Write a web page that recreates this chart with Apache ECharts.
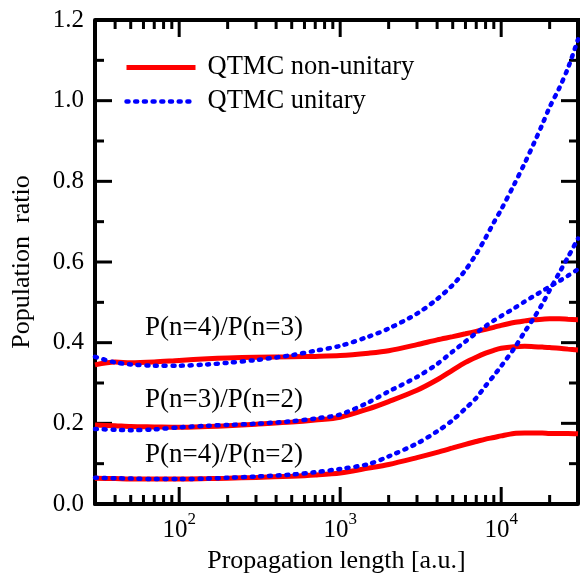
<!DOCTYPE html>
<html>
<head>
<meta charset="utf-8">
<script src="https://cdn.jsdelivr.net/npm/echarts@6/dist/echarts.min.js"></script>
<style>
  html, body { margin: 0; padding: 0; background: #fff; }
  #chart { width: 580px; height: 579px; }
</style>
</head>
<body>
<div id="chart"></div>
<script>
// Propagation lengths (a.u.) at which the population ratios are sampled
const lengths = [30, 40, 50, 70, 100, 150, 200, 300, 500, 700, 1000, 1500, 2000, 3000, 4000,
  5000, 6000, 7000, 8000, 9000, 10000, 12000, 14000, 16000, 18000, 20000, 23000, 26000, 30000];

// P(n=4)/P(n=3)
const nonUnitary43 = [0.345, 0.352, 0.350, 0.352, 0.356, 0.360, 0.362, 0.364, 0.365, 0.366, 0.368, 0.374, 0.380,
  0.395, 0.407, 0.415, 0.422, 0.428, 0.433, 0.438, 0.443, 0.450, 0.454, 0.457, 0.458, 0.459, 0.459, 0.458, 0.457];
const unitary43 = [0.365, 0.351, 0.346, 0.343, 0.343, 0.346, 0.350, 0.357, 0.369, 0.380, 0.392, 0.415, 0.435,
  0.472, 0.508, 0.543, 0.580, 0.620, 0.660, 0.698, 0.730, 0.791, 0.845, 0.895, 0.941, 0.984, 1.032, 1.081, 1.152];

// P(n=3)/P(n=2)
const nonUnitary32 = [0.196, 0.194, 0.192, 0.191, 0.190, 0.192, 0.194, 0.198, 0.203, 0.208, 0.215, 0.236, 0.254,
  0.282, 0.308, 0.332, 0.351, 0.364, 0.374, 0.381, 0.386, 0.390, 0.391, 0.390, 0.389, 0.388, 0.386, 0.384, 0.382];
const unitary32 = [0.186, 0.184, 0.183, 0.185, 0.190, 0.194, 0.196, 0.199, 0.205, 0.212, 0.222, 0.252, 0.279,
  0.315, 0.347, 0.378, 0.403, 0.424, 0.441, 0.455, 0.466, 0.485, 0.502, 0.516, 0.528, 0.539, 0.553, 0.566, 0.582];

// P(n=4)/P(n=2)
const nonUnitary42 = [0.064, 0.063, 0.062, 0.062, 0.062, 0.063, 0.064, 0.066, 0.069, 0.072, 0.077, 0.089, 0.098,
  0.115, 0.128, 0.139, 0.148, 0.155, 0.161, 0.165, 0.169, 0.175, 0.176, 0.176, 0.176, 0.175, 0.175, 0.175, 0.174];
const unitary42 = [0.065, 0.064, 0.063, 0.062, 0.062, 0.063, 0.065, 0.068, 0.073, 0.079, 0.087, 0.099, 0.118,
  0.150, 0.180, 0.208, 0.237, 0.263, 0.293, 0.318, 0.342, 0.385, 0.427, 0.462, 0.496, 0.530, 0.574, 0.612, 0.658];

// Axis ranges and tick positions
const X_MIN = 30, X_MAX = 30000, Y_MIN = 0, Y_MAX = 1.2;
const xMajorTicks = [100, 1000, 10000];
const xMinorTicks = [40, 50, 60, 70, 80, 90, 200, 300, 400, 500, 600, 700, 800, 900,
  2000, 3000, 4000, 5000, 6000, 7000, 8000, 9000, 20000];
const yMajorTicks = [0.2, 0.4, 0.6, 0.8, 1.0];
const yMinorTicks = [0.1, 0.3, 0.5, 0.7, 0.9, 1.1];

const seriesNames = ['QTMC non-unitary', 'QTMC unitary'];
const ratioLabels = ['P(n=4)/P(n=3)', 'P(n=3)/P(n=2)', 'P(n=4)/P(n=2)'];

const FONT = 'Liberation Serif';
const RED = '#ff0000';
const BLUE = '#0000ff';
const MAJOR_LEN = 17, MINOR_LEN = 9;

function pairs(ys) { return lengths.map((x, i) => [x, ys[i]]); }

const chart = echarts.init(document.getElementById('chart'));

function solid(ys) {
  return {
    type: 'line', name: seriesNames[0], data: pairs(ys),
    symbol: 'none', smooth: 0.3,
    lineStyle: { color: RED, width: 5 }, itemStyle: { color: RED }
  };
}
function dotted(ys) {
  return {
    type: 'line', name: seriesNames[1], data: pairs(ys),
    symbol: 'none', smooth: 0.3,
    lineStyle: { color: BLUE, width: 4.5, type: [2, 6.7], cap: 'round' }, itemStyle: { color: BLUE }
  };
}

function tickLine(x1, y1, x2, y2) {
  return { type: 'line', shape: { x1: x1, y1: y1, x2: x2, y2: y2 }, style: { stroke: '#000', lineWidth: 3 } };
}

// Inward ticks on the bottom and top edges of the frame, placed through the log scale
const xTickSeries = {
  type: 'custom', silent: true, clip: false,
  dimensions: ['length', 'ratio', 'major'], encode: { x: 0, y: 1 },
  data: xMajorTicks.map(v => [v, Y_MIN, 1]).concat(xMinorTicks.map(v => [v, Y_MIN, 0])),
  renderItem: (params, api) => {
    const v = api.value(0);
    const len = api.value(2) ? MAJOR_LEN : MINOR_LEN;
    const b = api.coord([v, Y_MIN]);
    const t = api.coord([v, Y_MAX]);
    return { type: 'group', children: [
      tickLine(b[0], b[1], b[0], b[1] - len),
      tickLine(t[0], t[1], t[0], t[1] + len)
    ] };
  }
};

// Inward ticks on the left and right edges of the frame
const yTickSeries = {
  type: 'custom', silent: true, clip: false,
  dimensions: ['length', 'ratio', 'major'], encode: { x: 0, y: 1 },
  data: yMajorTicks.map(v => [X_MIN, v, 1]).concat(yMinorTicks.map(v => [X_MIN, v, 0])),
  renderItem: (params, api) => {
    const v = api.value(1);
    const len = api.value(2) ? MAJOR_LEN : MINOR_LEN;
    const l = api.coord([X_MIN, v]);
    const r = api.coord([X_MAX, v]);
    return { type: 'group', children: [
      tickLine(l[0], l[1], l[0] + len, l[1]),
      tickLine(r[0], r[1], r[0] - len, r[1])
    ] };
  }
};

chart.setOption({
  animation: false,
  grid: { left: 95, right: 2, top: 20, bottom: 75 },
  xAxis: {
    type: 'log', logBase: 10, min: X_MIN, max: X_MAX,
    splitLine: { show: false },
    axisLine: { show: true, onZero: false, lineStyle: { color: '#000', width: 4 } },
    axisTick: { show: false },
    minorTick: { show: false },
    axisLabel: {
      show: true, customValues: xMajorTicks, margin: 7,
      formatter: v => '{b|10}{s|' + Math.round(Math.log10(v)) + '}',
      rich: {
        b: { fontSize: 25, fontFamily: FONT, color: '#000', lineHeight: 32, verticalAlign: 'bottom' },
        s: { fontSize: 17, fontFamily: FONT, color: '#000', lineHeight: 16, verticalAlign: 'top' }
      }
    },
    name: 'Propagation length [a.u.]',
    nameLocation: 'middle', nameGap: 39,
    nameTextStyle: { fontSize: 26, fontFamily: FONT, color: '#000' }
  },
  yAxis: {
    type: 'value', min: Y_MIN, max: Y_MAX, interval: 0.2,
    splitLine: { show: false },
    axisLine: { show: true, onZero: false, lineStyle: { color: '#000', width: 4 } },
    axisTick: { show: false },
    minorTick: { show: false },
    axisLabel: {
      show: true, margin: 11, fontSize: 25, fontFamily: FONT, color: '#000',
      formatter: v => v.toFixed(1)
    },
    name: 'Population  ratio',
    nameLocation: 'middle', nameGap: 60,
    nameTextStyle: { fontSize: 26, fontFamily: FONT, color: '#000' }
  },
  legend: {
    data: seriesNames, orient: 'vertical', left: 124, top: 54, padding: 0,
    itemWidth: 69, itemHeight: 14, itemGap: 7,
    itemStyle: { opacity: 0 },
    lineStyle: { width: 'inherit' },
    textStyle: { fontSize: 26.5, fontFamily: FONT, color: '#000', padding: [0, 0, 0, 7] }
  },
  graphic: ratioLabels.map((t, i) => ({
    type: 'text', x: 145, y: [328, 400, 455][i],
    style: { text: t, font: '27px "Liberation Serif"', fill: '#000', verticalAlign: 'middle' }
  })),
  series: [
    // frame: top and right edges
    {
      type: 'custom', silent: true, clip: false, encode: { x: 0, y: 1 },
      data: [[X_MAX, Y_MAX]],
      renderItem: (params, api) => {
        const tl = api.coord([X_MIN, Y_MAX]);
        const tr = api.coord([X_MAX, Y_MAX]);
        const br = api.coord([X_MAX, Y_MIN]);
        return { type: 'polyline', shape: { points: [tl, tr, br] },
          style: { stroke: '#000', lineWidth: 4, fill: null } };
      }
    },
    xTickSeries, yTickSeries,
    solid(nonUnitary43), solid(nonUnitary32), solid(nonUnitary42),
    dotted(unitary43), dotted(unitary32), dotted(unitary42)
  ]
});
</script>
</body>
</html>
